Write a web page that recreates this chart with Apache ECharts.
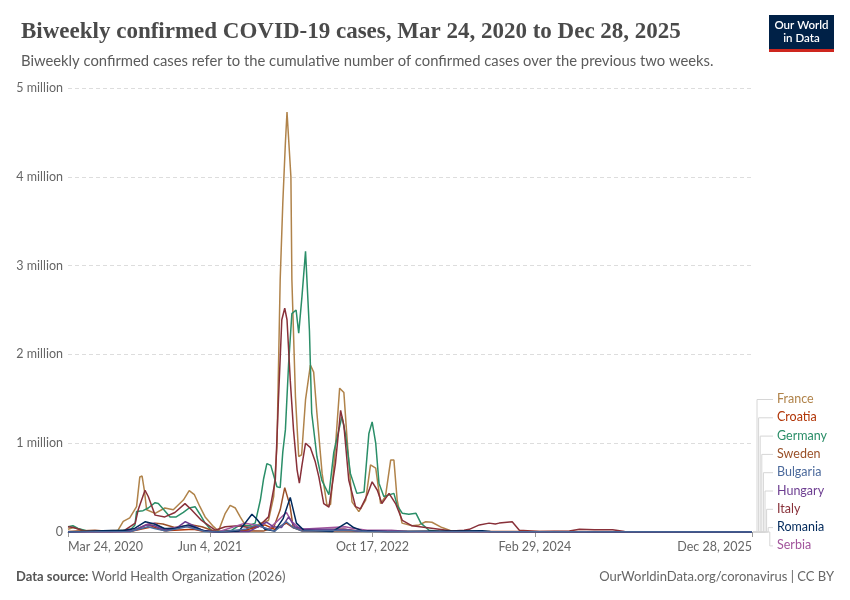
<!DOCTYPE html>
<html>
<head>
<meta charset="utf-8">
<title>Biweekly confirmed COVID-19 cases</title>
<script src="https://cdn.jsdelivr.net/npm/echarts@6/dist/echarts.min.js"></script>
<style>
  html, body { margin: 0; padding: 0; background: #fff; }
  #chart { width: 850px; height: 600px; }
</style>
</head>
<body>
<div id="chart"></div>
<script>
// tick labels on the time axis
var xTicks = ['2020-03-24', '2021-06-04', '2022-10-17', '2024-02-29', '2025-12-28'];
var yTicks = [0, 1e6, 2e6, 3e6, 4e6, 5e6];

// values, in millions of cases
var franceDates = ['2020-03-24','2020-04-10','2020-05-20','2020-07-15','2020-08-25','2020-09-10','2020-09-30','2020-10-21','2020-10-31','2020-11-07','2020-11-14','2020-11-21','2020-12-17','2021-01-16','2021-02-11','2021-03-14','2021-04-01','2021-04-17','2021-05-04','2021-05-20','2021-06-15','2021-06-30','2021-07-21','2021-08-05','2021-08-21','2021-09-05','2021-09-20','2021-10-21','2021-11-07','2021-12-01','2021-12-17','2021-12-27','2022-01-06','2022-01-14','2022-01-22','2022-01-27','2022-02-01','2022-02-08','2022-02-11','2022-02-22','2022-03-04','2022-03-13','2022-03-25','2022-04-09','2022-04-19','2022-04-29','2022-05-15','2022-05-30','2022-06-10','2022-06-25','2022-07-08','2022-07-21','2022-07-31','2022-08-15','2022-09-05','2022-09-26','2022-10-11','2022-10-27','2022-11-11','2022-11-26','2022-12-12','2022-12-22','2023-01-01','2023-01-16','2023-02-16','2023-03-09','2023-03-30','2023-04-18','2023-05-19','2023-06-19','2023-07-15','2025-12-28'];
var franceValues = [0.03,0.05,0.01,0.01,0.02,0.12,0.16,0.285,0.62,0.63,0.47,0.25,0.21,0.27,0.25,0.36,0.465,0.42,0.285,0.17,0.06,0.01,0.21,0.30,0.27,0.17,0.08,0.06,0.10,0.13,0.40,0.96,2.84,3.70,4.38,4.73,4.73,4.00,2.84,1.52,0.85,0.87,1.49,1.88,1.80,1.34,0.66,0.30,0.31,0.96,1.62,1.57,1.04,0.34,0.23,0.36,0.755,0.72,0.32,0.40,0.81,0.81,0.36,0.10,0.07,0.08,0.115,0.11,0.05,0.01,0.005,0.003];

var italyDates = ['2020-03-24','2020-04-10','2020-05-10','2020-08-01','2020-09-15','2020-10-17','2020-10-26','2020-11-16','2020-11-26','2020-12-17','2021-01-16','2021-02-16','2021-03-19','2021-04-08','2021-05-09','2021-06-20','2021-07-21','2021-08-31','2021-10-01','2021-10-31','2021-12-01','2021-12-22','2022-01-01','2022-01-11','2022-01-20','2022-01-27','2022-02-06','2022-02-16','2022-02-27','2022-03-06','2022-03-14','2022-03-25','2022-04-09','2022-04-24','2022-05-05','2022-05-20','2022-06-05','2022-06-25','2022-07-11','2022-07-21','2022-08-05','2022-08-26','2022-09-10','2022-10-01','2022-10-16','2022-11-01','2022-11-15','2022-12-07','2022-12-27','2023-01-17','2023-02-16','2023-03-30','2023-05-10','2023-06-19','2023-07-26','2023-08-11','2023-09-11','2023-10-11','2023-10-30','2023-11-11','2023-12-21','2024-01-12','2024-03-14','2024-06-14','2024-07-15','2024-08-30','2024-10-25','2024-12-01','2025-12-28'];
var italyValues = [0.06,0.05,0.015,0.005,0.02,0.10,0.25,0.47,0.40,0.19,0.17,0.22,0.32,0.25,0.13,0.02,0.06,0.07,0.05,0.06,0.17,0.585,1.52,2.39,2.52,2.39,1.71,1.15,0.70,0.55,0.75,1.00,0.95,0.79,0.62,0.32,0.28,0.77,1.37,1.20,0.585,0.285,0.26,0.42,0.565,0.47,0.32,0.435,0.32,0.13,0.07,0.05,0.03,0.01,0.02,0.03,0.08,0.10,0.09,0.10,0.116,0.02,0.005,0.01,0.03,0.025,0.025,0.005,0.002];

var germanyDates = ['2020-03-24','2020-04-08','2020-04-24','2020-05-25','2020-07-01','2020-08-04','2020-09-10','2020-10-04','2020-10-16','2020-10-21','2020-11-10','2020-11-26','2020-12-17','2020-12-27','2021-01-11','2021-02-01','2021-02-20','2021-03-14','2021-04-01','2021-04-19','2021-05-04','2021-05-20','2021-06-08','2021-06-30','2021-08-10','2021-08-31','2021-10-01','2021-10-21','2021-11-06','2021-11-16','2021-11-26','2021-12-08','2021-12-27','2022-01-06','2022-01-14','2022-01-22','2022-02-01','2022-02-11','2022-02-24','2022-03-04','2022-03-14','2022-03-25','2022-03-31','2022-04-06','2022-04-13','2022-04-29','2022-05-14','2022-06-05','2022-06-20','2022-07-15','2022-07-26','2022-08-10','2022-08-30','2022-09-21','2022-10-06','2022-10-16','2022-10-27','2022-11-06','2022-11-21','2022-12-22','2023-01-01','2023-01-17','2023-02-06','2023-02-28','2023-03-15','2023-04-09','2023-05-10','2025-12-28'];
var germanyValues = [0.06,0.07,0.04,0.01,0.005,0.01,0.02,0.03,0.08,0.23,0.24,0.27,0.33,0.32,0.26,0.17,0.17,0.22,0.27,0.285,0.20,0.10,0.02,0.005,0.02,0.07,0.07,0.10,0.36,0.60,0.77,0.75,0.51,0.50,0.90,1.15,1.90,2.46,2.50,2.24,2.65,3.16,3.15,2.27,1.34,0.85,0.585,0.42,0.90,1.30,1.10,0.66,0.435,0.45,1.11,1.24,1.00,0.55,0.40,0.435,0.30,0.21,0.20,0.21,0.10,0.02,0.005,0.002];

var swedenDates = ['2020-03-24','2020-04-20','2020-06-15','2020-08-01','2020-10-15','2020-11-20','2020-12-18','2021-01-10','2021-02-15','2021-04-10','2021-05-10','2021-06-20','2021-08-31','2021-11-15','2021-12-17','2022-01-06','2022-01-20','2022-01-26','2022-02-05','2022-02-15','2022-03-15','2022-07-20','2022-12-15','2025-12-28'];
var swedenValues = [0.005,0.01,0.02,0.005,0.02,0.08,0.10,0.09,0.05,0.08,0.06,0.005,0.015,0.01,0.05,0.25,0.50,0.52,0.30,0.05,0.01,0.01,0.005,0.001];

var romaniaDates = ['2020-03-24','2020-05-01','2020-08-01','2020-09-15','2020-10-15','2020-11-17','2020-12-15','2021-01-15','2021-02-15','2021-03-29','2021-04-20','2021-05-20','2021-07-01','2021-09-01','2021-10-11','2021-10-25','2021-11-20','2021-12-20','2022-01-15','2022-02-06','2022-02-25','2022-03-20','2022-06-15','2022-07-30','2022-08-20','2022-09-15','2022-12-01','2023-09-20','2023-10-15','2025-12-28'];
var romaniaValues = [0.001,0.005,0.017,0.02,0.04,0.116,0.09,0.04,0.04,0.08,0.05,0.01,0.001,0.01,0.20,0.15,0.03,0.01,0.15,0.39,0.10,0.02,0.005,0.105,0.05,0.015,0.005,0.015,0.005,0.0];

var hungaryDates = ['2020-03-24','2020-09-01','2020-10-15','2020-11-20','2020-12-15','2021-01-15','2021-02-20','2021-03-20','2021-04-10','2021-05-10','2021-06-15','2021-10-01','2021-11-25','2021-12-15','2022-01-10','2022-02-01','2022-02-20','2022-03-20','2022-07-25','2022-09-01','2022-12-01','2025-12-28'];
var hungaryValues = [0.001,0.005,0.02,0.08,0.07,0.02,0.04,0.116,0.08,0.02,0.001,0.005,0.11,0.06,0.05,0.17,0.06,0.03,0.03,0.01,0.005,0.0];

var serbiaDates = ['2020-03-24','2020-07-10','2020-10-01','2020-11-25','2020-12-15','2021-01-15','2021-03-25','2021-04-15','2021-05-20','2021-07-01','2021-09-20','2021-10-20','2021-12-01','2022-01-25','2022-02-10','2022-03-10','2022-07-25','2022-08-20','2022-10-01','2022-12-15','2023-02-01','2025-12-28'];
var serbiaValues = [0.001,0.005,0.002,0.09,0.10,0.03,0.07,0.05,0.01,0.002,0.10,0.08,0.03,0.22,0.12,0.03,0.06,0.04,0.02,0.02,0.005,0.0];

var croatiaDates = ['2020-03-24','2020-10-01','2020-11-20','2020-12-10','2021-01-15','2021-04-15','2021-05-10','2021-07-01','2021-09-20','2021-11-20','2021-12-20','2022-01-25','2022-02-15','2022-03-15','2022-07-20','2022-09-01','2022-12-15','2025-12-28'];
var croatiaValues = [0.001,0.005,0.045,0.06,0.015,0.03,0.01,0.001,0.02,0.08,0.03,0.10,0.05,0.02,0.03,0.01,0.008,0.0];

var bulgariaDates = ['2020-03-24','2020-10-01','2020-11-25','2020-12-15','2021-01-20','2021-03-25','2021-04-15','2021-05-20','2021-07-01','2021-09-20','2021-10-25','2021-11-25','2021-12-20','2022-01-25','2022-02-15','2022-03-15','2022-07-25','2022-10-01','2025-12-28'];
var bulgariaValues = [0.0,0.005,0.06,0.04,0.01,0.06,0.04,0.005,0.001,0.03,0.08,0.04,0.01,0.116,0.05,0.01,0.02,0.005,0.0];

var countries = ['France', 'Croatia', 'Germany', 'Sweden', 'Bulgaria', 'Hungary', 'Italy', 'Romania', 'Serbia'];
var colors = {
    France: '#B0834A', Croatia: '#B13507', Germany: '#2A8E68', Sweden: '#9A5129',
    Bulgaria: '#4C6A9C', Hungary: '#6D3E91', Italy: '#883039', Romania: '#00295B', Serbia: '#A2559C'
};
var seriesData = {
    France: [franceDates, franceValues], Croatia: [croatiaDates, croatiaValues],
    Germany: [germanyDates, germanyValues], Sweden: [swedenDates, swedenValues],
    Bulgaria: [bulgariaDates, bulgariaValues], Hungary: [hungaryDates, hungaryValues],
    Italy: [italyDates, italyValues], Romania: [romaniaDates, romaniaValues],
    Serbia: [serbiaDates, serbiaValues]
};
// drawing order, small ones on top of the big ones
var drawOrder = ['France', 'Germany', 'Italy', 'Sweden', 'Croatia', 'Serbia', 'Hungary', 'Romania', 'Bulgaria'];

var months = ['Jan','Feb','Mar','Apr','May','Jun','Jul','Aug','Sep','Oct','Nov','Dec'];
function parseDay(s) {
    var p = s.split('-');
    return Date.UTC(+p[0], +p[1] - 1, +p[2]);
}
function fmtDate(v) {
    var d = new Date(v);
    return months[d.getUTCMonth()] + ' ' + d.getUTCDate() + ', ' + d.getUTCFullYear();
}
function fmtY(v) {
    return v === 0 ? '0' : (v / 1e6) + ' million';
}

var series = drawOrder.map(function (name) {
    var d = seriesData[name];
    return {
        name: name,
        type: 'line',
        symbol: 'none',
        smooth: false,
        lineStyle: { width: 1.5, color: colors[name] },
        itemStyle: { color: colors[name] },
        data: d[0].map(function (day, i) { return [parseDay(day), d[1][i] * 1e6]; })
    };
});

var font = 'Lato, "Noto Sans", sans-serif';

// right side labels with their connector lines
var graphics = [];
var labelTop = 399.5, labelStep = 18.3;
countries.forEach(function (name, i) {
    var ly = labelTop + i * labelStep;
    var vx = 757 + i * 1.6;
    graphics.push({
        type: 'polyline',
        shape: { points: [[753, 532], [vx, 532], [vx, ly], [773, ly]] },
        style: { stroke: '#d6d6d6', lineWidth: 1, fill: null },
        silent: true
    });
    graphics.push({
        type: 'text', left: 777, top: ly - 7,
        style: { text: name, fill: colors[name], font: '12.5px ' + font }
    });
});

// logo
graphics.push({ type: 'rect', shape: { x: 769, y: 15, width: 65, height: 34 }, style: { fill: '#002147' } });
graphics.push({ type: 'rect', shape: { x: 769, y: 49, width: 65, height: 3 }, style: { fill: '#CE261E' } });
graphics.push({
    type: 'text', x: 801.5, y: 32,
    style: { text: 'Our World\nin Data', fill: '#fff', font: '600 11.5px ' + font, align: 'center', verticalAlign: 'middle', lineHeight: 13 }
});

// footer
graphics.push({
    type: 'text', left: 16, top: 570,
    style: { rich: { b: { font: 'bold 13px ' + font, fill: '#555' }, n: { font: '13px ' + font, fill: '#666' } },
             text: '{b|Data source:}{n| World Health Organization (2026)}' }
});
graphics.push({
    type: 'text', right: 16, top: 570,
    style: { text: 'OurWorldinData.org/coronavirus | CC BY', font: '13px ' + font, fill: '#666' }
});

var myChart = echarts.init(document.getElementById('chart'));
var option = {
    animation: false,
    color: drawOrder.map(function (n) { return colors[n]; }),
    title: [
        {
            text: 'Biweekly confirmed COVID-19 cases, Mar 24, 2020 to Dec 28, 2025',
            left: 16, top: 16,
            textStyle: { fontFamily: '"Liberation Serif", serif', fontSize: 23, fontWeight: 'bold', color: '#4a4a4a' }
        },
        {
            text: 'Biweekly confirmed cases refer to the cumulative number of confirmed cases over the previous two weeks.',
            left: 16, top: 49,
            textStyle: { fontFamily: font, fontSize: 14.8, fontWeight: 'normal', color: '#5b5b5b' }
        }
    ],
    grid: { left: 68, right: 98, top: 88, bottom: 68 },
    xAxis: {
        type: 'value',
        min: parseDay(xTicks[0]),
        max: parseDay(xTicks[xTicks.length - 1]),
        axisLine: { show: true, lineStyle: { color: '#999' } },
        axisTick: { show: true, length: 5, lineStyle: { color: '#999' }, customValues: xTicks.map(parseDay) },
        axisLabel: {
            customValues: xTicks.map(parseDay),
            formatter: fmtDate,
            color: '#666', fontFamily: font, fontSize: 12.5, margin: 8,
            alignMinLabel: 'left', alignMaxLabel: 'right'
        },
        splitLine: { show: false }
    },
    yAxis: {
        type: 'value',
        min: 0, max: 5e6, interval: 1e6,
        axisLine: { show: false },
        axisTick: { show: false },
        axisLabel: { formatter: fmtY, color: '#666', fontFamily: font, fontSize: 12.5, margin: 5 },
        splitLine: { lineStyle: { color: '#ddd', type: [4, 3] } }
    },
    graphic: graphics,
    series: series
};
myChart.setOption(option);
</script>
</body>
</html>
